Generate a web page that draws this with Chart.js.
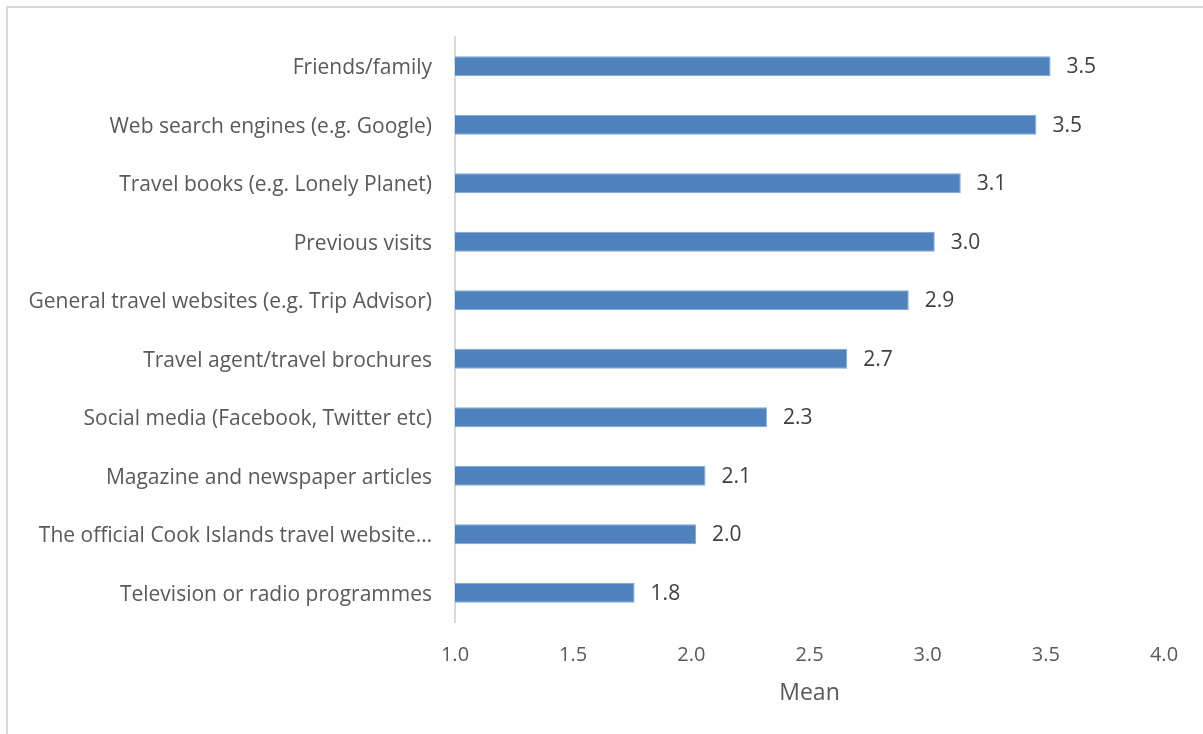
<!DOCTYPE html>
<html>
<head>
<meta charset="utf-8">
<script src="https://cdn.jsdelivr.net/npm/chart.js@4/dist/chart.umd.min.js"></script>
<style>
  html, body { margin: 0; padding: 0; background: #fff; overflow: hidden; }
  #frame {
    position: absolute; left: 6px; top: 6px; right: 0; bottom: 0;
    border-top: 2px solid #d9d9d9; border-left: 2px solid #d9d9d9;
  }
  #chart { position: absolute; left: 0; top: 0; }
</style>
</head>
<body>
<div id="frame"></div>
<canvas id="chart" width="1203" height="734"></canvas>
<script>
"use strict";

const categories = [
    "Friends/family",
    "Web search engines (e.g. Google)",
    "Travel books (e.g. Lonely Planet)",
    "Previous visits",
    "General travel websites (e.g. Trip Advisor)",
    "Travel agent/travel brochures",
    "Social media (Facebook, Twitter etc)",
    "Magazine and newspaper articles",
    "The official Cook Islands travel website…",
    "Television or radio programmes"
];
const meanValues = [3.52, 3.46, 3.14, 3.03, 2.92, 2.66, 2.32, 2.06, 2.02, 1.76];
const xTicks = [1.0, 1.5, 2.0, 2.5, 3.0, 3.5, 4.0];

const FONT = "'Open Sans', 'Liberation Sans', sans-serif";

// value labels to the right of every bar
const barValueLabels = {
    id: "barValueLabels",
    afterDatasetsDraw(chart) {
        const ctx = chart.ctx;
        const meta = chart.getDatasetMeta(0);
        ctx.save();
        ctx.font = "21px " + FONT;
        ctx.fillStyle = "#404040";
        ctx.textAlign = "left";
        ctx.textBaseline = "middle";
        meta.data.forEach((bar, i) => {
            ctx.fillText(meanValues[i].toFixed(1), bar.x + 16, bar.y + 1);
        });
        ctx.restore();
    }
};

new Chart(document.getElementById("chart"), {
    type: "bar",
    data: {
        labels: categories,
        datasets: [{
            data: meanValues,
            base: 1,
            backgroundColor: "#4f81bd",
            borderColor: "#7ea6d6",
            borderWidth: 1,
            categoryPercentage: 1,
            barPercentage: 0.345
        }]
    },
    options: {
        indexAxis: "y",
        responsive: false,
        animation: false,
        devicePixelRatio: 1,
        layout: { padding: { top: 37, right: 39, bottom: 20, left: 0 } },
        plugins: {
            legend: { display: false },
            tooltip: { enabled: false }
        },
        scales: {
            x: {
                min: 1, max: 4,
                afterBuildTicks: s => { s.ticks = xTicks.map(v => ({ value: v })); },
                afterFit: s => { s.height = 92; },
                grid: { display: false, drawTicks: false },
                border: { display: false },
                ticks: {
                    color: "#595959",
                    font: { family: FONT, size: 20 },
                    padding: 21,
                    callback: v => Number(v).toFixed(1)
                },
                title: {
                    display: true,
                    text: "Mean",
                    color: "#595959",
                    font: { family: FONT, size: 23 },
                    padding: { top: 0, bottom: 7 }
                }
            },
            y: {
                afterFit: s => { s.width = 455; },
                grid: { display: false, drawTicks: false },
                border: { display: true, color: "#d9d9d9", width: 2 },
                ticks: {
                    color: "#595959",
                    font: { family: FONT, size: 21 },
                    padding: 23,
                    labelOffset: 2,
                    autoSkip: false
                }
            }
        }
    },
    plugins: [barValueLabels]
});
</script>
</body>
</html>
